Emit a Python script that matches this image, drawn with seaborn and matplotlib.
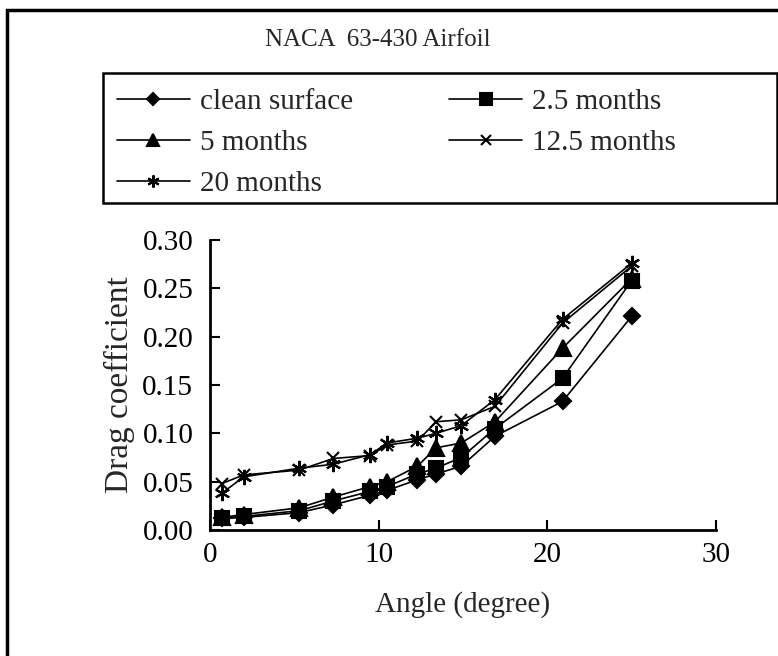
import numpy as np
import pandas as pd
import seaborn as sns
import matplotlib.pyplot as plt
from matplotlib.patches import Rectangle

# ---- data ----
angle = [0.7, 2.0, 5.3, 7.3, 9.5, 10.5, 12.3, 13.4, 14.9, 16.9, 20.9, 25.0]
clean_surface = [0.012, 0.013, 0.018, 0.026, 0.036, 0.041, 0.052, 0.058, 0.066, 0.097, 0.133, 0.221]
months_2_5 = [0.012, 0.014, 0.020, 0.030, 0.040, 0.045, 0.058, 0.064, 0.075, 0.105, 0.157, 0.258]
months_5 = [0.013, 0.016, 0.023, 0.034, 0.045, 0.050, 0.066, 0.085, 0.090, 0.112, 0.188, 0.260]
months_12_5 = [0.048, 0.057, 0.062, 0.074, 0.077, 0.088, 0.092, 0.112, 0.114, 0.128, 0.214, 0.273]
months_20 = [0.038, 0.055, 0.064, 0.068, 0.078, 0.090, 0.095, 0.100, 0.108, 0.135, 0.218, 0.276]
series_labels = ["clean surface", "2.5 months", "5 months", "12.5 months", "20 months"]
x_ticks = [0, 10, 20, 30]
y_ticks = [0.00, 0.05, 0.10, 0.15, 0.20, 0.25, 0.30]

series_values = [clean_surface, months_2_5, months_5, months_12_5, months_20]
markers = ["D", "s", "^", "x", (6, 2, 0)]
msizes = [8, 10, 11, 9, 11]

sns.set_theme(style="white")
plt.rcParams['font.family'] = ['Liberation Serif', 'DejaVu Serif']

W, H = 778, 656
fig = plt.figure(figsize=(W / 100, H / 100), dpi=100)
ax = fig.add_axes([210 / W, 1 - 530 / H, (716 - 210) / W, (530 - 240) / H])

handles = {}
for lab, vals, mk, ms in zip(series_labels, series_values, markers, msizes):
    df = pd.DataFrame({"Angle": angle, "Cd": vals})
    sns.lineplot(data=df, x="Angle", y="Cd", ax=ax, color="black", lw=1.2,
                 marker=mk, markersize=ms, markeredgecolor="black",
                 markerfacecolor="black", markeredgewidth=1.5, label=lab,
                 legend=False)
    line = ax.get_lines()[-1]
    line.set_clip_on(False)
    handles[lab] = line

ax.set_xlim(0, 30)
ax.set_ylim(0, 0.30)
ax.set_xticks(x_ticks)
ax.set_yticks(y_ticks)
ax.set_xticklabels([str(t) for t in x_ticks])
ax.set_yticklabels([f"{t:.2f}" for t in y_ticks])
for s in ["top", "right"]:
    ax.spines[s].set_visible(False)
for s in ["left", "bottom"]:
    ax.spines[s].set_color("black")
    ax.spines[s].set_linewidth(2)
ax.tick_params(axis="both", direction="in", length=7, width=1.5, colors="black",
               labelsize=21, left=True, bottom=True)
ax.tick_params(axis="y", pad=12)
ax.tick_params(axis="x", pad=9)
ax.set_xlabel("Angle (degree)", fontsize=21, labelpad=16)
ax.set_ylabel("Drag coefficient", fontsize=24, labelpad=5)

# title
fig.text(378 / W, 1 - 40 / H, "NACA  63-430 Airfoil", ha="center", va="center", fontsize=18)

# legend
order = ["clean surface", "5 months", "20 months", "2.5 months", "12.5 months"]
leg = fig.legend([handles[k] for k in order], order, loc="upper left",
                 bbox_to_anchor=(117 / W, 1 - 89 / H), ncol=2, frameon=False,
                 fontsize=21, handlelength=2.5, handletextpad=0.34,
                 columnspacing=3.3, labelspacing=0.5, borderpad=0,
                 borderaxespad=0, markerscale=0.8)

# legend box
fig.patches.append(Rectangle((103 / W, 1 - 203 / H), (777 - 103) / W, 130 / H,
                             transform=fig.transFigure, fill=False, lw=1.8,
                             edgecolor="black"))
# outer frame
fig.patches.append(Rectangle((7 / W, -0.1), 1.2, 1.1 - 10 / H,
                             transform=fig.transFigure, fill=False, lw=2.5,
                             edgecolor="black"))

fig.savefig("out.png", dpi=100)
